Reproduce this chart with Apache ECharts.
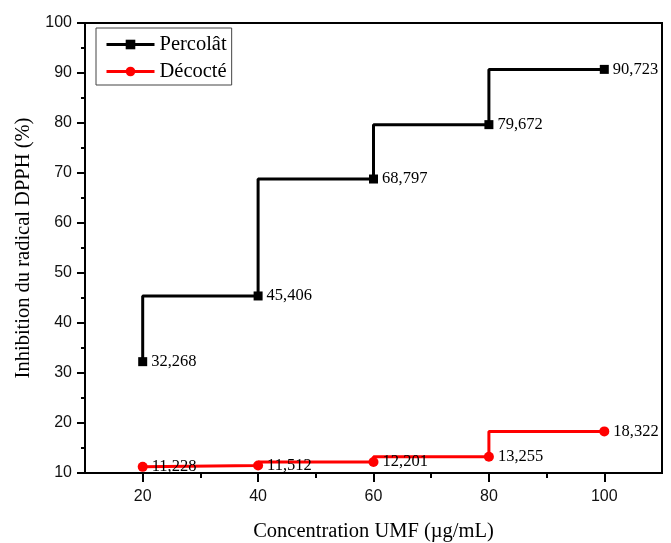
<!DOCTYPE html>
<html><head><meta charset="utf-8">
<script src="https://cdn.jsdelivr.net/npm/echarts@6/dist/echarts.min.js"></script>
<style>html,body{margin:0;padding:0;background:#fff}#c{width:671px;height:543px}</style>
</head><body><div id="c"></div>
<script>
const concentrations = [20, 40, 60, 80, 100];
const percolat = [32.268, 45.406, 68.797, 79.672, 90.723];
const decocte = [11.228, 11.512, 12.201, 13.255, 18.322];
const xTickLabels = [20, 40, 60, 80, 100];
const xMinorTicks = [30, 50, 70, 90];

const serif = '"Liberation Serif", "Times New Roman", serif';
const sans = '"Liberation Sans", Arial, sans-serif';
const fmt = p => p.value[1].toFixed(3).replace('.', ',');

const chart = echarts.init(document.getElementById('c'));
chart.setOption({
  animation: false,
  grid: {left: 85, right: 9, top: 23, bottom: 70, outerBoundsMode: 'none', containLabel: false,
    show: true, borderColor: '#000', borderWidth: 2, backgroundColor: 'transparent'},
  legend: {
    left: 96, top: 28, orient: 'vertical', padding: [6, 5, 3, 9], itemGap: 6,
    borderColor: '#444', borderWidth: 1, itemWidth: 48, itemHeight: 12,
    lineStyle: {width: 3},
    textStyle: {fontFamily: serif, fontSize: 20.5, color: '#000'},
    data: ['Percolât', 'Décocté']
  },
  xAxis: [{
    type: 'value', min: 10, max: 110,
    name: 'Concentration UMF (µg/mL)', nameLocation: 'middle', nameGap: 48,
    nameTextStyle: {fontFamily: serif, fontSize: 20.5, color: '#000'},
    axisLine: {show: true, lineStyle: {color: '#000', width: 2}},
    axisTick: {show: true, length: 9, customValues: xTickLabels, lineStyle: {color: '#000', width: 2}},
    axisLabel: {margin: 16, fontFamily: sans, fontSize: 16, color: '#111', customValues: xTickLabels},
    splitLine: {show: false}
  }, {
    type: 'value', min: 10, max: 110, position: 'bottom',
    axisLine: {show: false},
    axisTick: {show: true, length: 5, customValues: xMinorTicks, lineStyle: {color: '#000', width: 2}},
    axisLabel: {show: false},
    splitLine: {show: false}
  }],
  yAxis: {
    type: 'value', min: 10, max: 100, interval: 10,
    name: 'Inhibition du radical DPPH (%)', nameLocation: 'middle', nameGap: 49,
    nameTextStyle: {fontFamily: serif, fontSize: 20.5, color: '#000'},
    axisLine: {show: true, lineStyle: {color: '#000', width: 2}},
    axisTick: {show: true, length: 8, lineStyle: {color: '#000', width: 2}},
    minorTick: {show: true, splitNumber: 2, length: 4, lineStyle: {color: '#000', width: 2}},
    axisLabel: {margin: 13, fontFamily: sans, fontSize: 16, color: '#111'},
    splitLine: {show: false}
  },
  series: [
    {
      name: 'Percolât', type: 'line', step: 'start',
      data: concentrations.map((x, i) => [x, percolat[i]]),
      symbol: 'rect', symbolSize: 9,
      lineStyle: {color: '#000', width: 3}, itemStyle: {color: '#000'},
      label: {show: true, position: 'right', distance: 4, formatter: fmt,
        fontFamily: serif, fontSize: 16.5, color: '#000'}
    },
    {
      name: 'Décocté', type: 'line', step: 'start',
      data: concentrations.map((x, i) => [x, decocte[i]]),
      symbol: 'circle', symbolSize: 10,
      lineStyle: {color: '#f00', width: 3}, itemStyle: {color: '#f00'},
      label: {show: true, position: 'right', distance: 4, formatter: fmt,
        fontFamily: serif, fontSize: 16.5, color: '#000'}
    }
  ]
});
</script></body></html>
